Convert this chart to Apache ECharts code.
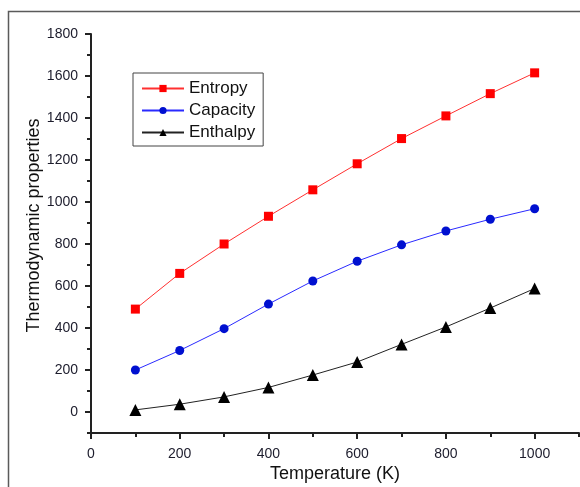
<!DOCTYPE html>
<html>
<head>
<meta charset="utf-8">
<script src="https://cdn.jsdelivr.net/npm/echarts@6/dist/echarts.min.js"></script>
<style>
  html, body { margin: 0; padding: 0; background: #fff; }
  #chart { width: 580px; height: 487px; }
</style>
</head>
<body>
<div id="chart"></div>
<script>
// Temperature points (K)
const temperatures = [100, 200, 300, 400, 500, 600, 700, 800, 900, 1000];
// Thermodynamic properties at each temperature
const entropy  = [490, 660, 800, 932, 1058, 1182, 1302, 1410, 1516, 1615];
const capacity = [200, 293, 397, 514, 624, 718, 796, 862, 918, 968];
const enthalpy = [10, 37, 72, 117, 176, 238, 322, 405, 495, 588];
// Labelled (major) tick positions
const xTickValues = [0, 200, 400, 600, 800, 1000];
const yTickValues = [0, 200, 400, 600, 800, 1000, 1200, 1400, 1600, 1800];

const FONT = '"Liberation Sans", Arial, sans-serif';
const AXIS_COLOR = '#222';
const LABEL_COLOR = '#1c1c2c';

function pairs(ys) {
  return temperatures.map((t, i) => [t, ys[i]]);
}
const plain = v => String(v);

const chart = echarts.init(document.getElementById('chart'), null, { renderer: 'canvas' });

chart.setOption({
  backgroundColor: '#fff',
  animation: false,
  textStyle: { fontFamily: FONT },
  graphic: [{
    // outer figure frame
    type: 'rect',
    z: -10,
    shape: { x: 8.5, y: 11.5, width: 800, height: 800 },
    style: { fill: 'none', stroke: '#5a5a5a', lineWidth: 1.5 },
    silent: true
  }],
  grid: { left: 91, right: 1, top: 34, bottom: 54, containLabel: false, outerBoundsMode: 'none' },
  legend: {
    orient: 'vertical',
    left: 133,
    top: 73,
    padding: [7, 8, 5, 8],
    borderColor: '#444',
    borderWidth: 1,
    itemWidth: 42,
    itemHeight: 9,
    itemGap: 5,
    textStyle: { fontSize: 17, color: '#111', fontFamily: FONT },
    data: ['Entropy', 'Capacity', 'Enthalpy']
  },
  xAxis: [{
    type: 'value',
    min: 0,
    max: 1100,
    interval: 100,
    name: 'Temperature (K)',
    nameLocation: 'middle',
    nameGap: 32,
    nameMoveOverlap: false,
    nameTextStyle: { fontSize: 18, color: '#111', fontFamily: FONT },
    axisLine: { show: true, onZero: false, lineStyle: { color: AXIS_COLOR, width: 2 } },
    axisTick: { show: true, inside: false, length: 6, customValues: xTickValues,
                lineStyle: { color: AXIS_COLOR, width: 2 } },
    axisLabel: { show: true, margin: 14, fontSize: 14, color: LABEL_COLOR, fontFamily: FONT,
                 customValues: xTickValues, formatter: plain },
    splitLine: { show: false }
  }, {
    // short ticks every 100 K
    type: 'value',
    min: 0,
    max: 1100,
    interval: 100,
    position: 'bottom',
    offset: 0,
    axisLine: { show: false, onZero: false },
    axisTick: { show: true, inside: false, length: 4, lineStyle: { color: AXIS_COLOR, width: 2 } },
    axisLabel: { show: false },
    splitLine: { show: false }
  }],
  yAxis: [{
    type: 'value',
    min: -100,
    max: 1800,
    interval: 100,
    name: 'Thermodynamic properties',
    nameLocation: 'middle',
    nameGap: 48,
    nameMoveOverlap: false,
    nameTextStyle: { fontSize: 18, color: '#111', fontFamily: FONT, padding: [0, 0, 0, 16] },
    axisLine: { show: true, onZero: false, lineStyle: { color: AXIS_COLOR, width: 2 } },
    axisTick: { show: true, inside: false, length: 6, customValues: yTickValues,
                lineStyle: { color: AXIS_COLOR, width: 2 } },
    axisLabel: { show: true, margin: 13, fontSize: 14, color: LABEL_COLOR, fontFamily: FONT,
                 customValues: yTickValues, formatter: plain },
    splitLine: { show: false }
  }, {
    // short ticks every 100
    type: 'value',
    min: -100,
    max: 1800,
    interval: 100,
    position: 'left',
    offset: 0,
    axisLine: { show: false, onZero: false },
    axisTick: { show: true, inside: false, length: 4, lineStyle: { color: AXIS_COLOR, width: 2 } },
    axisLabel: { show: false },
    splitLine: { show: false }
  }],
  series: [{
    name: 'Entropy',
    type: 'line',
    data: pairs(entropy),
    symbol: 'rect',
    symbolSize: 9,
    itemStyle: { color: '#ff0000' },
    lineStyle: { color: '#ff3030', width: 1 }
  }, {
    name: 'Capacity',
    type: 'line',
    data: pairs(capacity),
    symbol: 'circle',
    symbolSize: 9,
    itemStyle: { color: '#0010d0' },
    lineStyle: { color: '#2a2aff', width: 1 }
  }, {
    name: 'Enthalpy',
    type: 'line',
    data: pairs(enthalpy),
    symbol: 'triangle',
    symbolSize: 12,
    itemStyle: { color: '#000000' },
    lineStyle: { color: '#222', width: 1 }
  }]
});
</script>
</body>
</html>
